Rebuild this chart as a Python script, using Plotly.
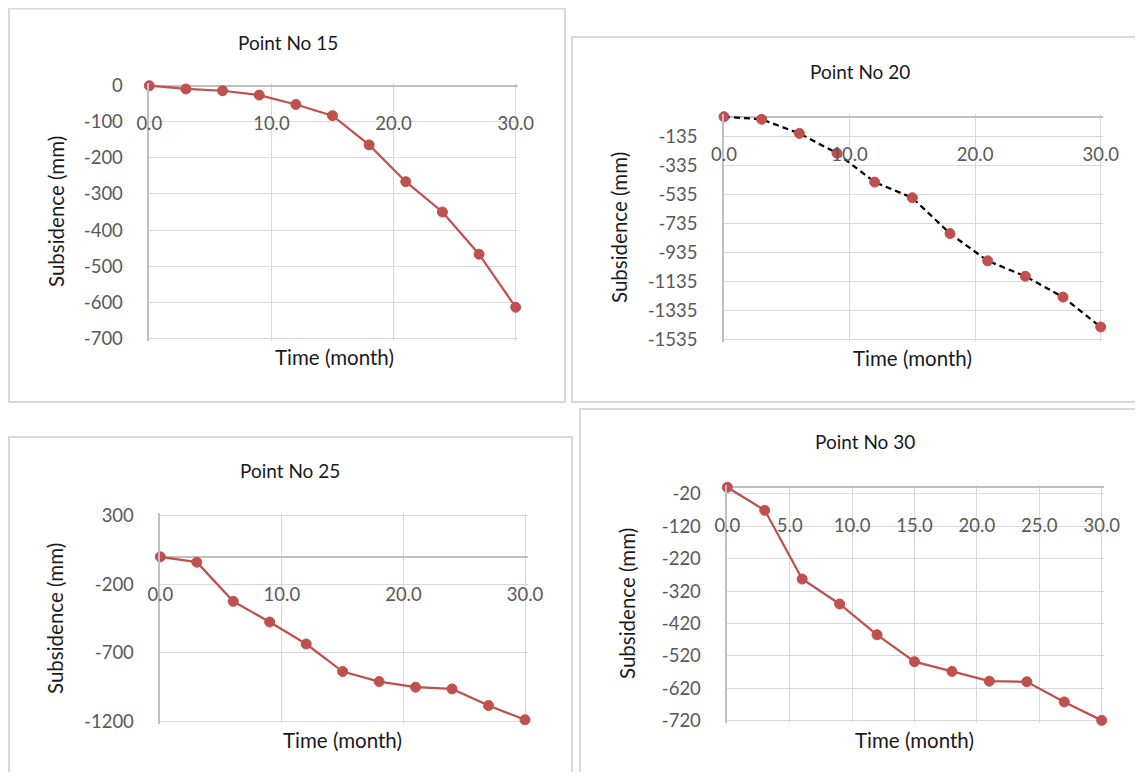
import plotly.graph_objects as go

# ---------------- data ----------------
time_month = [0, 3, 6, 9, 12, 15, 18, 21, 24, 27, 30]
point15 = [0, -9, -14, -26, -52, -83, -164, -266, -350, -467, -614]
point20 = [0, -18, -115, -252, -451, -559, -806, -994, -1100, -1244, -1450]
point25 = [0, -39, -325, -476, -636, -837, -910, -951, -964, -1085, -1189]
point30 = [0, -71, -283, -360, -455, -538, -568, -598, -600, -662, -719]

titles = ["Point No 15", "Point No 20", "Point No 25", "Point No 30"]
series = [point15, point20, point25, point30]

x_range = (0, 30)
y_ranges = [(-700, 0), (-1535, 0), (-1200, 300), (-720, 0)]
y_tick_values = [
    [0, -100, -200, -300, -400, -500, -600, -700],
    [-135, -335, -535, -735, -935, -1135, -1335, -1535],
    [300, -200, -700, -1200],
    [-20, -120, -220, -320, -420, -520, -620, -720],
]
y_tick_labels = [[str(v) for v in vals] for vals in y_tick_values]

x_tick_values = [
    [0, 10, 20, 30],
    [0, 10, 20, 30],
    [0, 10, 20, 30],
    [0, 5, 10, 15, 20, 25, 30],
]
x_tick_labels = [["%.1f" % v for v in vals] for vals in x_tick_values]

x_title = "Time (month)"
y_title = "Subsidence (mm)"

# ---------------- layout (page pixels) ----------------
PAGE_MARGIN = 8          # default body margin of the html page
W, H = 1143 - 2 * PAGE_MARGIN, 780 - 2 * PAGE_MARGIN
plot_boxes = [(149.3, 85.7, 515.7, 338.3), (724, 116.7, 1100.7, 339.3),
              (160.3, 515.7, 525, 721.3), (727.3, 487.3, 1101.7, 720.7)]
panel_boxes = [(9, 8.5, 565, 402), (572, 37, 1160, 402),
               (9, 437, 572, 800), (580, 409, 1160, 800)]
title_pos = [(288, 42), (860, 71), (290, 470), (865, 441)]
ytitle_pos = [(56, 212), (619, 228), (55, 619), (627, 604)]
xtitle_pos = [(334, 357), (912, 358), (342, 740), (914, 740)]
XLABEL_DROP = 25         # px from zero line to x tick-label axis
EDGE_PAD = 2.5           # px so that the edge grid lines are drawn

RED = "#C0504D"
GRID = "#d9d9d9"
AXIS = "#bfbfbf"
TICK = "#595959"
TEXT = "#1a1a1a"
FONT = "Lato"
TICK_SIZE = 18.5


def fx(px):
    return (px - PAGE_MARGIN) / W


def fy(py):
    return 1 - (py - PAGE_MARGIN) / H


fig = go.Figure()
annotations = []
shapes = []

for i in range(4):
    k = "" if i == 0 else str(i + 1)
    x0, y0, x1, y1 = plot_boxes[i]
    ymin, ymax = y_ranges[i]
    py_zero = y0 + (ymax - 0) / (ymax - ymin) * (y1 - y0)
    ux = (x_range[1] - x_range[0]) / (x1 - x0)      # data units per px
    uy = (ymax - ymin) / (y1 - y0)

    dashed = (i == 1)
    fig.add_trace(go.Scatter(
        x=time_month, y=series[i], mode="lines+markers",
        line=dict(color="black" if dashed else RED, width=2.25,
                  dash="6px,4px" if dashed else "solid"),
        marker=dict(color=RED, size=10, line=dict(color=RED, width=1)),
        xaxis="x" + k, yaxis="y" + k, showlegend=False, cliponaxis=False,
    ))

    fig.layout["xaxis" + k] = dict(
        domain=[fx(x0), fx(x1 + EDGE_PAD)],
        range=[x_range[0], x_range[1] + EDGE_PAD * ux],
        tickmode="array", tickvals=x_tick_values[i], ticktext=x_tick_labels[i],
        anchor="free", position=fy(py_zero + XLABEL_DROP), side="bottom",
        ticks="", showline=False, automargin=False,
        showgrid=True, gridcolor=GRID, gridwidth=1.3, zeroline=False,
        tickfont=dict(family=FONT, size=TICK_SIZE, color=TICK),
        fixedrange=True,
    )
    fig.layout["yaxis" + k] = dict(
        domain=[fy(y1 + EDGE_PAD), fy(y0 - EDGE_PAD)],
        range=[ymin - EDGE_PAD * uy, ymax + EDGE_PAD * uy],
        tickmode="array", tickvals=y_tick_values[i], ticktext=y_tick_labels[i],
        anchor="x" + k, ticks="", ticklabelstandoff=21, automargin=False,
        showline=True, linecolor=AXIS, linewidth=1.5,
        showgrid=True, gridcolor=GRID, gridwidth=1.3,
        zeroline=True, zerolinecolor=AXIS, zerolinewidth=1.5,
        tickfont=dict(family=FONT, size=TICK_SIZE, color=TICK),
        fixedrange=True,
    )

    tx, ty = title_pos[i]
    annotations.append(dict(text=titles[i], x=fx(tx), y=fy(ty), xref="paper",
                            yref="paper", showarrow=False, xanchor="center",
                            yanchor="middle",
                            font=dict(family=FONT, size=19, color=TEXT)))
    ax, ay = ytitle_pos[i]
    annotations.append(dict(text=y_title, x=fx(ax), y=fy(ay), xref="paper",
                            yref="paper", showarrow=False, textangle=-90,
                            xanchor="center", yanchor="middle",
                            font=dict(family=FONT, size=20.5, color=TEXT)))
    bx, by = xtitle_pos[i]
    annotations.append(dict(text=x_title, x=fx(bx), y=fy(by), xref="paper",
                            yref="paper", showarrow=False, xanchor="center",
                            yanchor="middle",
                            font=dict(family=FONT, size=20.5, color=TEXT)))

    px0, py0, px1, py1 = panel_boxes[i]
    shapes.append(dict(type="rect", xref="paper", yref="paper",
                       x0=fx(px0), x1=fx(px1), y0=fy(py1), y1=fy(py0),
                       line=dict(color=GRID, width=2), layer="below"))

fig.update_layout(
    width=W, height=H, margin=dict(l=0, r=0, t=0, b=0, pad=0),
    paper_bgcolor="white", plot_bgcolor="white",
    annotations=annotations, shapes=shapes, showlegend=False,
    font=dict(family=FONT), template="none",
)

fig.write_html("out.html", config={"displayModeBar": False})
